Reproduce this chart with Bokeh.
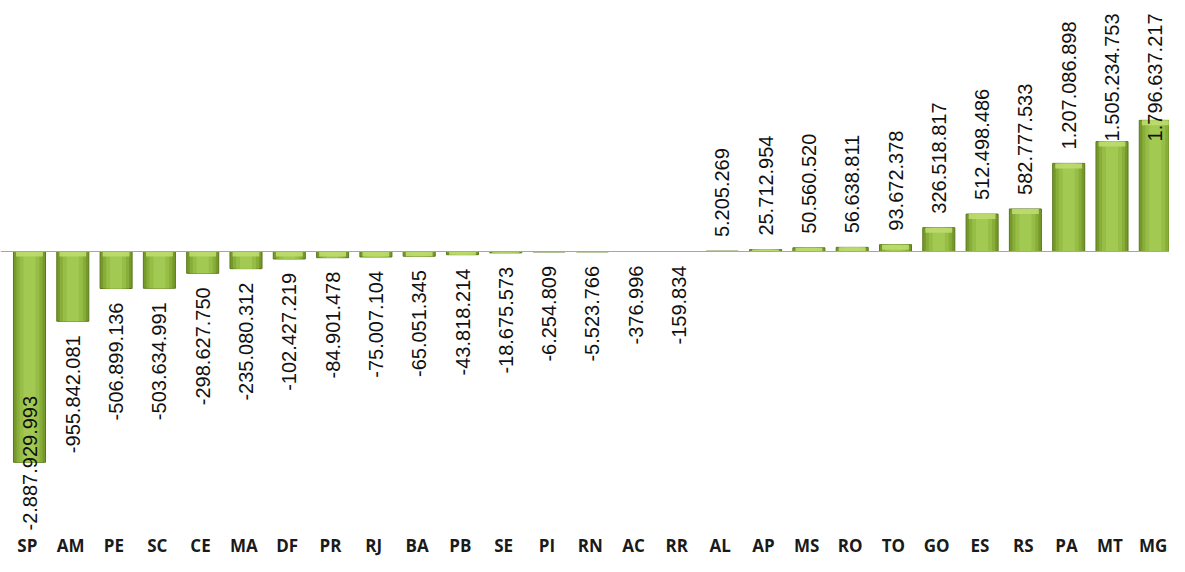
import numpy as np
from bokeh.plotting import figure
from bokeh.models import Range1d, ColumnDataSource, Span
from bokeh.core.properties import value
from bokeh.embed import file_html
from bokeh.resources import INLINE

# ---- data ----
states = ["SP", "AM", "PE", "SC", "CE", "MA", "DF", "PR", "RJ", "BA", "PB", "SE", "PI", "RN",
          "AC", "RR", "AL", "AP", "MS", "RO", "TO", "GO", "ES", "RS", "PA", "MT", "MG"]
values = [-2887929993, -955842081, -506899136, -503634991, -298627750, -235080312,
          -102427219, -84901478, -75007104, -65051345, -43818214, -18675573, -6254809,
          -5523766, -376996, -159834, 5205269, 25712954, 50560520, 56638811, 93672378,
          326518817, 512498486, 582777533, 1207086898, 1505234753, 1796637217]
labels = ["-2.887.929.993", "-955.842.081", "-506.899.136", "-503.634.991", "-298.627.750",
          "-235.080.312", "-102.427.219", "-84.901.478", "-75.007.104", "-65.051.345",
          "-43.818.214", "-18.675.573", "-6.254.809", "-5.523.766", "-376.996", "-159.834",
          "5.205.269", "25.712.954", "50.560.520", "56.638.811", "93.672.378", "326.518.817",
          "512.498.486", "582.777.533", "1.207.086.898", "1.505.234.753", "1.796.637.217"]

# ---- layout ----
W, H = 1169, 556
zero_px = 251.0
scale = 0.0730e-6          # px per unit
y_top = zero_px / scale
y_bot = -(H - zero_px) / scale
step_px = 43.3
x_start = 0.5 - 29.0 / step_px
x_end = x_start + W / step_px

def px2y(py):
    return y_top - py / H * (y_top - y_bot)

def y2px(y):
    return (y_top - y) / (y_top - y_bot) * H

vals = np.array(values, dtype=float)
xs = np.arange(len(states)) + 0.5

p = figure(width=W, height=H, x_range=Range1d(x_start, x_end), y_range=Range1d(y_bot, y_top),
           output_backend="svg", toolbar_location=None, min_border=0)
p.axis.visible = False
p.grid.visible = False
p.outline_line_color = None
p.background_fill_color = "white"
p.border_fill_color = "white"

top = np.maximum(vals, 0)
bot = np.minimum(vals, 0)
src = ColumnDataSource(dict(x=xs, top=top, bottom=bot))

# layered bars to imitate the gradient
p.vbar(x="x", top="top", bottom="bottom", width=0.74, source=src,
       fill_color="#76992b", line_color="#5a771c", line_width=1)
p.vbar(x="x", top="top", bottom="bottom", width=0.60, source=src,
       fill_color="#88ad38", line_color=None)
p.vbar(x="x", top="top", bottom="bottom", width=0.46, source=src,
       fill_color="#96bd46", line_color=None)
p.vbar(x="x", top="top", bottom="bottom", width=0.28, source=src,
       fill_color="#a2c952", line_color=None)

# bevel highlight at the upper end of each bar
band = px2y(0) - px2y(5)
hb_top = top
hb_bot = np.maximum(top - band, bot)
p.vbar(x=xs, top=hb_top, bottom=hb_bot, width=0.62, fill_color="#bddb6e",
       line_color=None, fill_alpha=0.9)

p.add_layout(Span(location=0, dimension="width", line_color="#a6a6a6", line_width=1))

# value labels (rotated)
cw = {"d": 0.556, ".": 0.278, "-": 0.333}
fs = 20
gap = 14
top_lim, bot_lim = 13, 530
ly, la = [], []
for v, lab in zip(vals, labels):
    L = sum(cw["d"] if c.isdigit() else cw.get(c, 0.5) for c in lab) * fs
    bp = y2px(v)
    if v < 0:
        end = bp + gap
        if end + L > bot_lim:
            ly.append(px2y(bot_lim)); la.append("left")
        else:
            ly.append(px2y(end)); la.append("right")
    else:
        start = bp - gap
        if start - L < top_lim:
            ly.append(px2y(top_lim)); la.append("right")
        else:
            ly.append(px2y(start)); la.append("left")

lsrc = ColumnDataSource(dict(x=xs, y=ly, t=labels, a=la))
p.text(x="x", y="y", text="t", text_align="a", source=lsrc, angle=np.pi / 2,
       text_baseline="middle", text_font=value("Liberation Sans"),
       text_font_size=f"{fs}px", text_color="#111111")

# category labels
p.text(x=xs - 0.05, y=[px2y(545)] * len(xs), text=states, text_align="center",
       text_baseline="middle", text_font=value("Open Sans"), text_font_style="bold",
       text_font_size="17px", text_color="#1a1a1a")

open("out.html", "w").write(file_html(p, INLINE))
